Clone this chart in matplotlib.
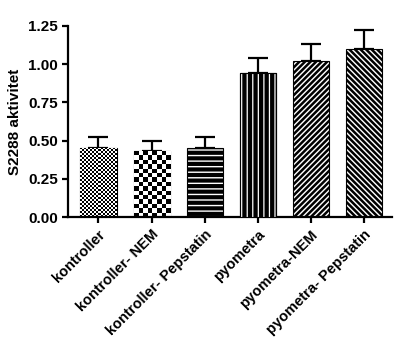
import numpy as np
import matplotlib
matplotlib.use("Agg")
import matplotlib.pyplot as plt

plt.rcParams['font.family'] = ['Liberation Sans', 'DejaVu Sans']
plt.rcParams['font.weight'] = 'bold'

groups = ["kontroller", "kontroller- NEM", "kontroller- Pepstatin",
          "pyometra", "pyometra-NEM", "pyometra- Pepstatin"]
means = [0.453, 0.430, 0.450, 0.940, 1.020, 1.097]
sem = [0.067, 0.070, 0.073, 0.100, 0.114, 0.127]
yticks = [0.00, 0.25, 0.50, 0.75, 1.00, 1.25]


def hatch_lw(patch, lw):
    if hasattr(patch, 'set_hatch_linewidth'):
        patch.set_hatch_linewidth(lw)
    else:
        patch._hatch_linewidth = lw


fig = plt.figure(figsize=(4.01, 3.54), dpi=100)
ax = fig.add_axes([0.17, 0.387, 0.808, 0.54])

x = np.arange(len(groups))
width = 0.68

bars = ax.bar(x, means, width=width, color='white', edgecolor='black',
              linewidth=0.8, zorder=2)

# patterns: checker (fine), checker (coarse), horizontal, vertical, /, \
bars[2].set_hatch('---')
hatch_lw(bars[2], 3.0)
bars[3].set_facecolor('black')
bars[4].set_hatch('//////')
hatch_lw(bars[4], 1.8)
bars[5].set_hatch('\\' * 6)
hatch_lw(bars[5], 1.8)

# thin white vertical lines on the black bar
over = ax.bar(x[3], means[3], width=width, fill=False, edgecolor='white',
              hatch='|||', linewidth=0, zorder=3)
hatch_lw(over[0], 0.9)
ax.bar(x[3], means[3], width=width, fill=False, edgecolor='black',
       linewidth=0.8, zorder=4)

ax.errorbar(x, means, yerr=[np.zeros(len(sem)), sem], fmt='none',
            ecolor='black', elinewidth=1.6, capsize=7, capthick=1.6, zorder=1)

ax.set_xlim(-0.57, 5.53)
ax.set_ylim(0, 1.25)

# checkerboards drawn as clipped images
fig.canvas.draw()
for i, cell in [(0, 2.0), (1, 4.5)]:
    b = bars[i]
    x0, y0 = b.get_x(), b.get_y()
    w, h = b.get_width(), b.get_height()
    p0 = ax.transData.transform((x0, y0))
    p1 = ax.transData.transform((x0 + w, y0 + h))
    nx = max(1, int(round((p1[0] - p0[0]) / cell)))
    ny = max(1, int(round((p1[1] - p0[1]) / cell)))
    board = (np.add.outer(np.arange(ny), np.arange(nx)) % 2).astype(float)
    im = ax.imshow(board, cmap='gray', vmin=0, vmax=1, interpolation='nearest',
                   extent=[x0, x0 + w, y0, y0 + h], aspect='auto', zorder=2.5)
    im.set_clip_path(b)
ax.set_xlim(-0.57, 5.53)
ax.set_ylim(0, 1.25)

ax.set_yticks(yticks)
ax.set_yticklabels([f"{v:.2f}" for v in yticks], fontsize=11, fontweight='bold')
ax.set_xticks(x)
ax.set_xticklabels(groups, rotation=45, ha='right', rotation_mode='anchor',
                   fontsize=10.5, fontweight='bold')
ax.set_ylabel("S2288 aktivitet", fontsize=11, fontweight='bold')

for s in ['top', 'right']:
    ax.spines[s].set_visible(False)
for s in ['left', 'bottom']:
    ax.spines[s].set_linewidth(1.6)
ax.tick_params(axis='both', width=1.6, length=4, direction='out')

fig.savefig("out.png", dpi=100)
